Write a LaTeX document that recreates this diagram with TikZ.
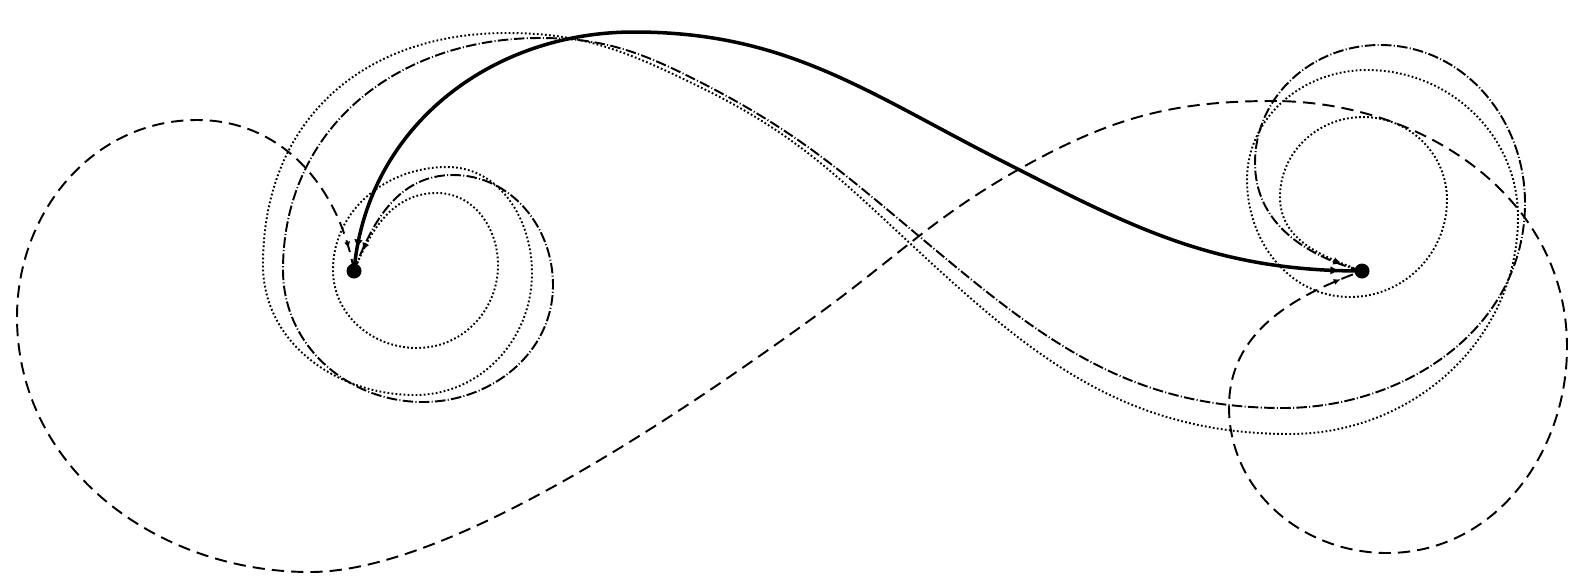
\documentclass[tikz,border=0pt]{standalone}
\usepackage{tikz}
\usetikzlibrary{decorations.markings,arrows.meta}

\tikzset{
	endpt/.style={circle, fill=black, inner sep=0pt, minimum size=0.3cm},
	tips/.style={postaction={decorate, decoration={markings,
		mark=at position 13pt with {\arrowreversed{#1}},
		mark=at position -13pt with {\arrow{#1}}}}},
	fair/.style={line width=2pt, tips={Latex[length=5pt,width=5pt]}},
	wild/.style={line width=1.1pt, tips={Latex[length=4pt,width=3.5pt]}},
	dashloop/.style={wild, dash pattern=on 7pt off 4pt},
	dashdotloop/.style={wild, dash pattern=on 6pt off 1.3pt on 0.6pt off 1.3pt},
	dotloop/.style={wild, dash pattern=on 1pt off 1.3pt},
}

\begin{document}
\begin{tikzpicture}[x=0.02cm, y=0.02cm]
			\useasboundingbox (0,0) rectangle (1588,-586);
			\node[endpt] (p) at (354,-271){};
			\node[endpt] (q) at (1362,-271){};
			\draw[fair] (p.center) to[out=85,in=180] (634,-32) to[out=0,in=153] (1000,-160) to[out=-27,in=180] (q.center);
			\draw[dashloop] (p.center) to[out=100,in=0] (197,-120) to[out=180,in=90] (17,-317) to[out=270,in=180] (310,-572) to[out=0,in=216,out distance=2cm,in distance=6cm] (817,-315) to[out=36,in=209] (1023,-167) to[out=29,in=180] (1273,-101) to[out=0,in=90] (1567,-347) to[out=270,in=0] (1387,-553) to[out=180,in=270] (1229,-407) to[out=90,in=200] (q.center);
			\draw[dashdotloop] (p.center) to[out=70,in=180] (453,-175) to[out=0,in=90] (553,-285) to[out=270,in=0] (423,-402) to[out=180,in=270] (283,-270) to[out=90,in=180,looseness=1.05] (540,-38) to[out=0,in=153] (700,-82) to[out=-27,in=140] (920,-237) to[out=-40,in=180] (1283,-408) to[out=0,in=270] (1525,-203) to[out=90,in=0] (1380,-45) to[out=180,in=90] (1255,-163) to[out=270,in=165] (q.center);
			\draw[dotloop] (p.center) to[out=68,in=180] (437,-193) to[out=0,in=90] (498,-265) to[out=270,in=0] (417,-348) to[out=180,in=270] (333,-270) to[out=90,in=180] (447,-167) to[out=0,in=90] (532,-273) to[out=270,in=0] (415,-395) to[out=180,in=270] (263,-265) to[out=90,in=180,looseness=1.1] (507,-33) to[out=0,in=154] (700,-87) to[out=-26,in=137] (900,-234) to[out=-43,in=180] (1290,-434) to[out=0,in=270] (1518,-217) to[out=90,in=0] (1367,-70) to[out=180,in=90] (1247,-180) to[out=270,in=180] (1350,-297) to[out=0,in=270] (1447,-200) to[out=90,in=0] (1363,-117) to[out=180,in=90] (1280,-197) to[out=270,in=160] (q.center);
\end{tikzpicture}
\end{document}
